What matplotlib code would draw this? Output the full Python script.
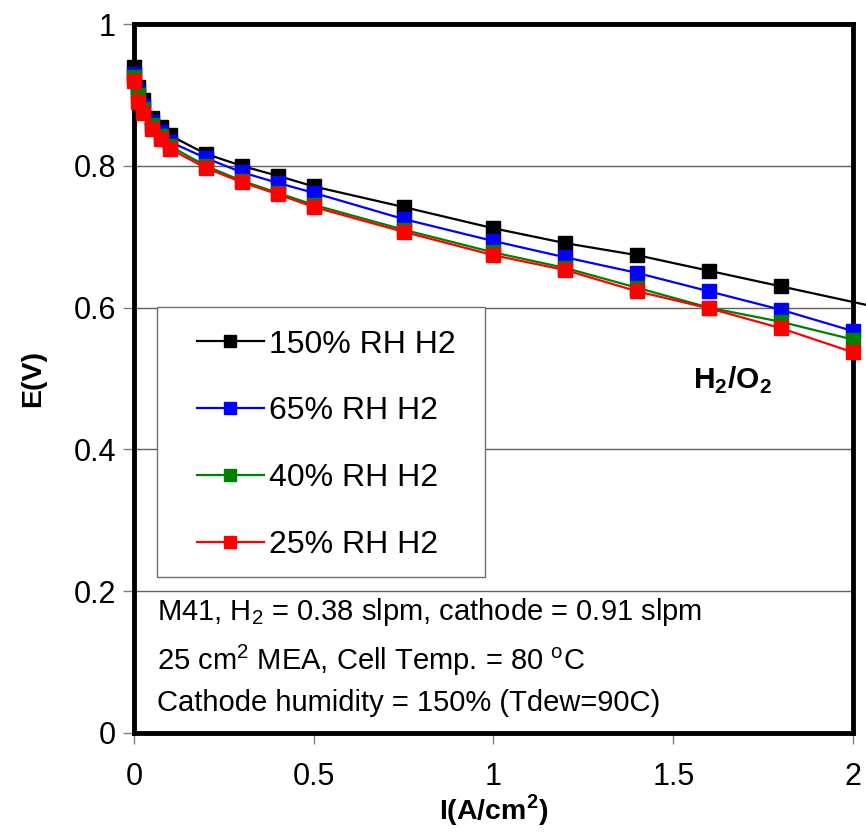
import matplotlib
matplotlib.use('Agg')
import matplotlib.pyplot as plt
from matplotlib.patches import Rectangle

plt.rcParams['font.family'] = ['Liberation Sans', 'DejaVu Sans']
plt.rcParams['mathtext.fontset'] = 'custom'
plt.rcParams['mathtext.rm'] = 'Liberation Sans'
plt.rcParams['mathtext.bf'] = 'Liberation Sans:bold'

# current density (A/cm2)
x = [0, 0.01, 0.025, 0.05, 0.075, 0.1, 0.2, 0.3, 0.4, 0.5, 0.75, 1.0, 1.2, 1.4, 1.6, 1.8, 2.0]
x_black = [0, 0.01, 0.025, 0.05, 0.075, 0.1, 0.2, 0.3, 0.4, 0.5, 0.75, 1.0, 1.2, 1.4, 1.6, 1.8, 2.2]

# cell voltage (V)
e_150 = [0.939, 0.911, 0.893, 0.868, 0.855, 0.843, 0.817, 0.800, 0.786, 0.771, 0.742, 0.712, 0.691, 0.674, 0.652, 0.630, 0.586]
e_65 = [0.930, 0.904, 0.885, 0.862, 0.848, 0.834, 0.811, 0.791, 0.776, 0.762, 0.725, 0.694, 0.671, 0.649, 0.623, 0.597, 0.567]
e_40 = [0.925, 0.900, 0.880, 0.857, 0.842, 0.828, 0.800, 0.779, 0.762, 0.745, 0.710, 0.678, 0.656, 0.628, 0.600, 0.580, 0.555]
e_25 = [0.920, 0.890, 0.874, 0.852, 0.838, 0.824, 0.797, 0.777, 0.760, 0.742, 0.707, 0.674, 0.653, 0.623, 0.599, 0.571, 0.537]

labels = ['150% RH H2', '65% RH H2', '40% RH H2', '25% RH H2']
colors = ['black', 'blue', 'green', 'red']

fig = plt.figure(figsize=(8.66, 8.32), dpi=100)
ax = fig.add_axes([0.1547, 0.119, 0.8303, 0.852])

series = [(x_black, e_150), (x, e_65), (x, e_40), (x, e_25)]
for (xs, ys), lab, c in zip(series, labels, colors):
    ax.plot(xs, ys, '-s', color=c, lw=1.6, markersize=10, label=lab,
            clip_on=False, zorder=5)

ax.set_xlim(0, 2)
ax.set_ylim(0, 1)
ax.set_xticks([0, 0.5, 1, 1.5, 2])
ax.set_xticklabels(['0', '0.5', '1', '1.5', '2'])
ax.set_yticks([0, 0.2, 0.4, 0.6, 0.8, 1])
ax.set_yticklabels(['0', '0.2', '0.4', '0.6', '0.8', '1'])
ax.tick_params(axis='both', labelsize=22, length=8, width=1, color='#808080', direction='out')
ax.tick_params(axis='x', pad=13)
ax.tick_params(axis='y', pad=5)

ax.yaxis.grid(True, color='#606060', lw=1)
ax.set_axisbelow(True)
for s in ax.spines.values():
    s.set_linewidth(3.5)
    s.set_color('black')

ax.set_xlabel('I(A/cm$^\\mathbf{2}$)', fontsize=20.5, fontweight='bold', labelpad=0)
ax.set_ylabel('E(V)', fontsize=20.5, fontweight='bold', labelpad=20)

# legend box drawn separately so the inner padding can be matched
box = Rectangle((0.032, 0.220), 0.456, 0.381, transform=ax.transAxes,
                facecolor='white', edgecolor='#707070', lw=1, zorder=4)
ax.add_patch(box)
leg = ax.legend(loc='upper left', bbox_to_anchor=(0.0876, 0.569), borderaxespad=0,
                fontsize=23, frameon=False, handlelength=2.1, handletextpad=0.15,
                labelspacing=1.15, borderpad=0, markerscale=0.9)
leg.set_zorder(6)

ax.text(0.777, 0.498, 'H$_\\mathbf{2}$/O$_\\mathbf{2}$', transform=ax.transAxes,
        fontsize=21.5, fontweight='bold', ha='left', va='center')

ax.text(0.032, 0.171, 'M41, H$_2$ = 0.38 slpm, cathode = 0.91 slpm', transform=ax.transAxes,
        fontsize=21, ha='left', va='center')
ax.text(0.032, 0.103, '25 cm$^2$ MEA, Cell Temp. = 80 $^\\mathrm{o}$C', transform=ax.transAxes,
        fontsize=21, ha='left', va='center')
ax.text(0.032, 0.042, 'Cathode humidity = 150% (Tdew=90C)', transform=ax.transAxes,
        fontsize=21, ha='left', va='center')

plt.savefig('out.png', dpi=100)
